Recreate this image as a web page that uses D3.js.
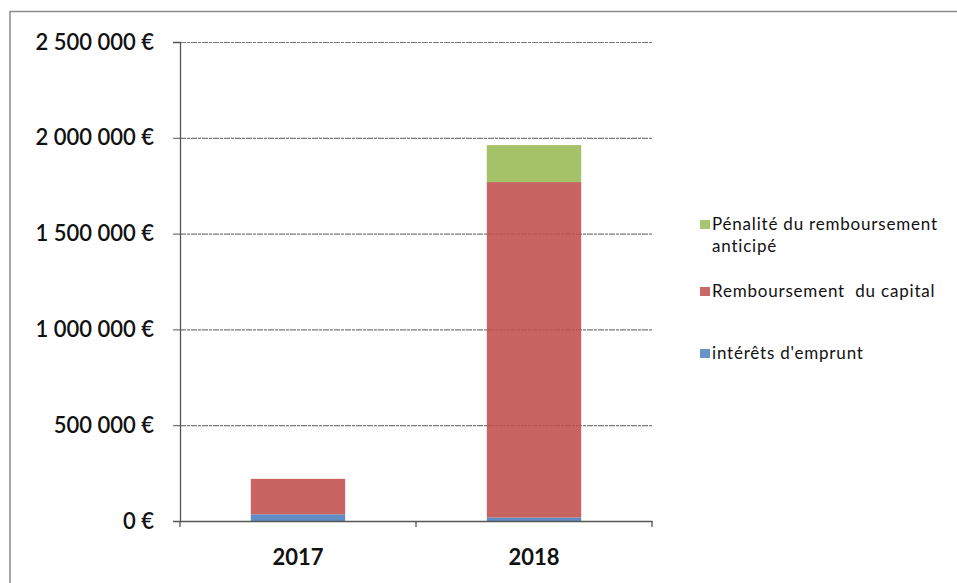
<!DOCTYPE html>
<html><head><meta charset="utf-8">
<script src="https://cdn.jsdelivr.net/npm/d3@7"></script>
<style>body{margin:0;background:#fff}svg{display:block}</style>
</head><body>
<svg id="c" width="957" height="583"></svg>
<script>
const years = ["2017", "2018"];
const interets = [35000, 18000];
const capital = [185000, 1751000];
const penalite = [0, 193000];
const colors = ["#4F81BD", "#C0504D", "#9BBB59"];
const yTicks = [0, 500000, 1000000, 1500000, 2000000, 2500000];

const svg = d3.select("#c");
const font = "Lato, 'Open Sans', sans-serif";
svg.append("line").attr("x1", 10).attr("x2", 10).attr("y1", 11).attr("y2", 583)
  .attr("stroke", "#8a8a8a").attr("stroke-width", 1.5);
svg.append("line").attr("x1", 10).attr("x2", 957).attr("y1", 11.5).attr("y2", 11.5)
  .attr("stroke", "#8a8a8a").attr("stroke-width", 1.5);

const m = {l: 180, r: 652, t: 42, b: 521};
const x = d3.scaleBand().domain(years).range([m.l, m.r]).paddingInner(0.6).paddingOuter(0.3);
const y = d3.scaleLinear().domain([0, 2500000]).range([m.b, m.t]);

const g = svg.append("g");
g.selectAll("line.grid").data(yTicks).join("line")
  .attr("x1", m.l).attr("x2", m.r).attr("y1", d => y(d) + 0.5).attr("y2", d => y(d) + 0.5)
  .attr("stroke", "#7a7a7a").attr("stroke-width", 1.2).attr("stroke-dasharray", "6,1,3,1");

const rows = years.map((yr, i) => ({year: yr, a: interets[i], b: capital[i], c: penalite[i]}));
const stack = d3.stack().keys(["a", "b", "c"])(rows);
stack.forEach((s, k) => {
  g.selectAll(null).data(s).join("rect")
    .attr("x", d => x(d.data.year)).attr("width", x.bandwidth())
    .attr("y", d => y(d[1])).attr("height", d => Math.max(0, y(d[0]) - y(d[1])))
    .attr("fill", colors[k]).attr("opacity", k === 1 ? 0.88 : 0.9);
});

const fmt = v => (v === 0 ? "0" : d3.format(",")(v).replace(/,/g, " ")) + " €";
const ya = d3.axisLeft(y).tickValues(yTicks).tickSize(7).tickFormat(fmt);
const yg = svg.append("g").attr("transform", `translate(${m.l},0)`).call(ya);
yg.select(".domain").attr("stroke", "#555").attr("stroke-width", 1.3);
yg.selectAll(".tick line").attr("stroke", "#555");
yg.selectAll("text").attr("font-family", font).attr("font-size", 22).attr("font-weight", 600)
  .attr("fill", "#111").attr("x", -26).style("white-space", "pre");

const xa = d3.axisBottom(x).tickSize(0).tickSizeOuter(0);
const xg = svg.append("g").attr("transform", `translate(0,${m.b})`).call(xa);
xg.select(".domain").attr("stroke", "#555").attr("stroke-width", 1.3);
xg.selectAll("text").attr("font-family", font).attr("font-size", 22).attr("font-weight", 700)
  .attr("fill", "#111").attr("y", 36).attr("dy", "0.35em");
const bounds = [m.l, (m.l + m.r) / 2, m.r];
svg.selectAll("line.xt").data(bounds).join("line")
  .attr("x1", d => d).attr("x2", d => d).attr("y1", m.b).attr("y2", m.b + 6)
  .attr("stroke", "#555").attr("stroke-width", 1.3);

const legend = [
  {k: 2, y: 224, lines: ["Pénalité du remboursement", "anticipé"]},
  {k: 1, y: 291, lines: ["Remboursement  du capital"]},
  {k: 0, y: 353, lines: ["intérêts d'emprunt"]}
];
const lg = svg.append("g");
legend.forEach(L => {
  lg.append("rect").attr("x", 700).attr("y", L.y - 4).attr("width", 10).attr("height", 9)
    .attr("fill", colors[L.k]).attr("opacity", 0.85);
  L.lines.forEach((t, j) => {
    lg.append("text").attr("x", 712).attr("y", L.y + j * 22).attr("dy", "0.35em")
      .attr("font-family", font).attr("font-size", 17).attr("letter-spacing", 0.8)
      .attr("fill", "#111").style("white-space", "pre").text(t);
  });
});
</script>
</body></html>
